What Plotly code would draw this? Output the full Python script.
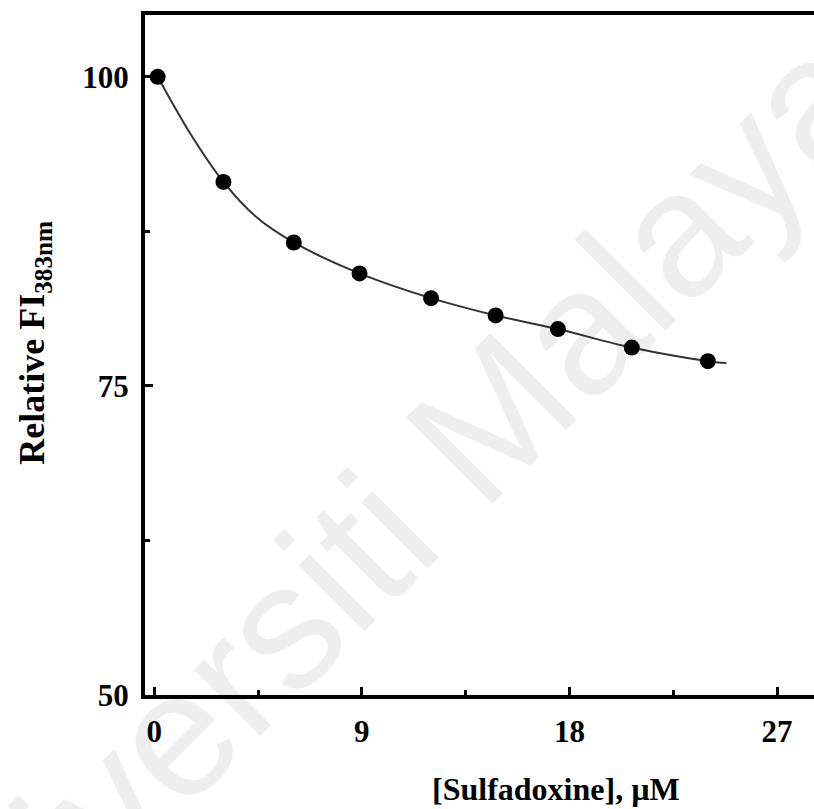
import plotly.graph_objects as go

# Data
conc = [0.15, 3.0, 6.05, 8.9, 12.0, 14.8, 17.5, 20.7, 24.0]
rel_fi = [100.0, 91.5, 86.6, 84.1, 82.1, 80.7, 79.6, 78.1, 77.0]

# Fitted curve
fit_x = [0.15, 1.5, 3.0, 4.4, 6.05, 8.9, 12.0, 14.8, 17.5, 20.7, 24.0, 24.8]
fit_y = [100.0, 95.6, 91.5, 88.7, 86.6, 84.1, 82.1, 80.7, 79.6, 78.1, 77.0, 76.85]

x_ticks = [0, 9, 18, 27]
y_ticks = [50, 75, 100]

W, H = 814, 809
L, R, T, B = 145, 0, 15, 113.5
SERIF = "Liberation Serif"


def px(xp):
    return (xp - L) / (W - L - R)


def py(yp):
    return (H - B - yp) / (H - T - B)


fig = go.Figure()
fig.add_trace(go.Scatter(
    x=fit_x, y=fit_y, mode="lines",
    line=dict(color="#333333", width=2, shape="spline", smoothing=0.9),
    hoverinfo="skip", showlegend=False,
))
fig.add_trace(go.Scatter(
    x=conc, y=rel_fi, mode="markers",
    marker=dict(color="black", size=16),
    showlegend=False,
))

axis_common = dict(
    showline=True, linecolor="black", linewidth=4,
    ticks="inside", tickcolor="black", tickwidth=2.5, ticklen=8,
    showgrid=False, zeroline=False,
    tickfont=dict(family=SERIF, size=31, color="black", weight="bold"),
)

fig.update_xaxes(
    range=[-0.4, 28.6], tickvals=x_ticks, mirror=True,
    minor=dict(ticks="inside", tickvals=[4.5, 13.5, 22.5], ticklen=5, tickwidth=2.5, tickcolor="black"),
    ticklabelstandoff=6,
    **axis_common,
)
fig.update_yaxes(
    range=[50, 105], tickvals=y_ticks, mirror=False,
    minor=dict(ticks="inside", tickvals=[62.5, 87.5], ticklen=5, tickwidth=2.5, tickcolor="black"),
    ticklabelstandoff=6,
    **axis_common,
)

annotations = [
    dict(text="<b>[Sulfadoxine], µM</b>", xref="paper", yref="paper",
         x=px(556), y=py(790), showarrow=False,
         font=dict(family=SERIF, size=32, color="black"),
         xanchor="center", yanchor="middle"),
    dict(text="<b>Relative FI<sub>383nm</sub></b>", xref="paper", yref="paper",
         x=px(35), y=py(343), showarrow=False, textangle=-90,
         font=dict(family=SERIF, size=36, color="black"),
         xanchor="center", yanchor="middle"),
    dict(text="Universiti Malaya", xref="paper", yref="paper",
         x=px(365), y=py(545), showarrow=False, textangle=-45,
         font=dict(family="Liberation Sans", size=178, color="rgba(0,0,0,0.065)"),
         xanchor="center", yanchor="middle"),
]

fig.update_layout(
    width=W, height=H,
    margin=dict(l=L, r=R, t=T, b=B),
    paper_bgcolor="white", plot_bgcolor="white",
    annotations=annotations,
)

fig.write_html("out.html")
